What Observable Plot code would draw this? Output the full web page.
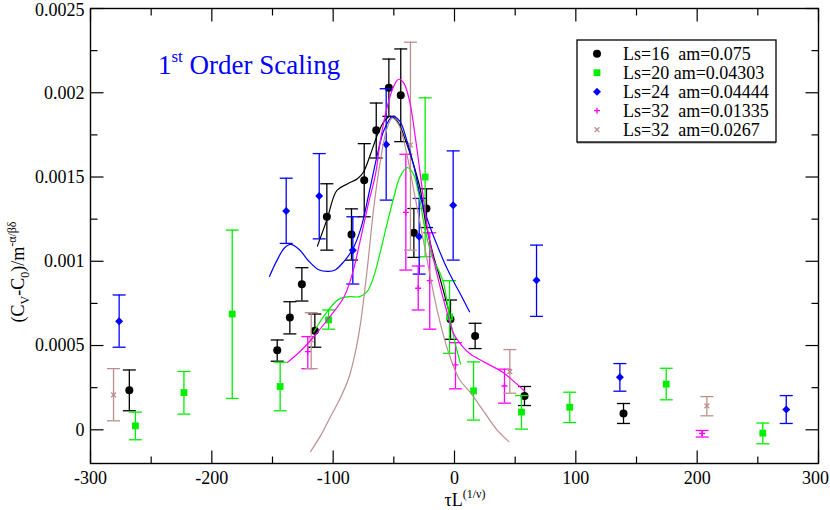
<!DOCTYPE html>
<html><head><meta charset="utf-8">
<script src="https://cdn.jsdelivr.net/npm/d3@7"></script>
<script src="https://cdn.jsdelivr.net/npm/@observablehq/plot@0.6"></script>
<style>body{margin:0;background:#fff;} svg text{font-family:"Liberation Serif","Times New Roman",serif;}</style>
</head><body><div id="chart"></div><script>
// ---------- data ----------
const labels = ["Ls=16  am=0.075", "Ls=20 am=0.04303", "Ls=24  am=0.04444", "Ls=32  am=0.01335", "Ls=32  am=0.0267"];
const colors = ["#000000", "#00ee00", "#0000ff", "#ff00ff", "#bc8f8f"];

const x16  = [-268, -146.1, -135.7, -125.8, -115.1, -105.2, -84.9, -74.4, -64.5, -54.1, -44.3, -33.5, -23.1, -3.3, 17, 57.7, 139.3];
const y16  = [0.000235, 0.000472, 0.000667, 0.000863, 0.000588, 0.001264, 0.001159, 0.001481, 0.001777, 0.00203, 0.001985, 0.001169, 0.001313, 0.000656, 0.000557, 0.000201, 0.0000967];
const lo16 = [0.000113, 0.000407, 0.000569, 0.000764, 0.00049, 0.001066, 0.001007, 0.001264, 0.001613, 0.00186, 0.00171, 0.001023, 0.0012, 0.000537, 0.000482, 0.000144, 0.0000375];
const hi16 = [0.000355, 0.000533, 0.00076, 0.000962, 0.000687, 0.00146, 0.001311, 0.001698, 0.001939, 0.0022, 0.00226, 0.001313, 0.00143, 0.00077, 0.000632, 0.000257, 0.000156];

const x20  = [-263, -223, -183.2, -143.7, -103.8, -24.2, -4.1, 15.7, 55.2, 95, 174.5, 254.1];
const y20  = [0.0000237, 0.000221, 0.000687, 0.000257, 0.000652, 0.0015, 0.00067, 0.000231, 0.000105, 0.000134, 0.000271, -0.0000197];
const lo20 = [-0.0000592, 0.000093, 0.000186, 0.000113, 0.000597, 0.001027, 0.000454, 0.0000575, 0.000004, 0.000043, 0.000178, -0.000083];
const hi20 = [0.000105, 0.000346, 0.001185, 0.000401, 0.000711, 0.00197, 0.000885, 0.000403, 0.000203, 0.000223, 0.000365, 0.00004];

const x24  = [-276.4, -138.7, -111.5, -83.8, -56.3, -29.1, -1.1, 67.6, 136.3, 273.4];
const y24  = [0.000644, 0.001299, 0.001388, 0.001066, 0.001693, 0.001145, 0.001333, 0.000887, 0.000312, 0.00012];
const lo24 = [0.00049, 0.001106, 0.001133, 0.000865, 0.001363, 0.000924, 0.001007, 0.000673, 0.000229, 0.0000375];
const hi24 = [0.0008, 0.001493, 0.001639, 0.001264, 0.002024, 0.001373, 0.001655, 0.001096, 0.000393, 0.000203];

const x32a  = [-120.9, -40.1, -29.9, -20.4, 0.8, 41.2, 204.1];
const y32a  = [0.000464, 0.00129, 0.00084, 0.000885, 0.000385, 0.00026, -0.0000219];
const lo32a = [0.000363, 0.000948, 0.000711, 0.000597, 0.000243, 0.000158, -0.000043];
const hi32a = [0.000553, 0.001635, 0.000972, 0.001169, 0.000517, 0.00036, -0.000004];

const x32b  = [-281, -118.1, -36.3, 45.6, 208];
const y32b  = [0.000207, 0.000533, 0.00169, 0.000345, 0.000142];
const lo32b = [0.0000533, 0.000363, 0.001066, 0.000217, 0.000083];
const hi32b = [0.000363, 0.000695, 0.0023, 0.000476, 0.000197];

// fitted curves
const cx16 = [-113, -105, -97, -88, -80, -75, -69, -63, -58, -53, -47, -40, -34, -28, -24, -18, -12, -6, -3];
const cy16 = [0.00109, 0.00125, 0.00142, 0.00146, 0.00149, 0.00153, 0.00164, 0.00176, 0.00183, 0.00186, 0.00183, 0.00171, 0.00158, 0.00142, 0.00124, 0.00105, 0.0009, 0.00074, 0.00066];
const cx20 = [-116, -110, -104, -98, -94, -86, -78, -72, -67, -62, -56, -50, -45, -39, -34, -29, -24, -18, -12, -9, -5, 0, 5];
const cy20 = [0.00058, 0.00065, 0.00071, 0.00076, 0.00078, 0.00079, 0.00079, 0.00082, 0.0009, 0.00103, 0.00121, 0.00138, 0.0015, 0.001556, 0.00152, 0.00138, 0.00118, 0.00102, 0.00093, 0.00087, 0.00071, 0.00053, 0.00039];
const cx24 = [-152.5, -146, -140, -135, -128, -120, -112, -104, -98, -91, -84, -77, -70, -64, -58, -51, -45, -39, -33, -28, -21, -14, -7, 0, 6, 12.4];
const cy24 = [0.00091, 0.00101, 0.00108, 0.0011, 0.00107, 0.001, 0.00095, 0.00094, 0.00095, 0.001, 0.00107, 0.0012, 0.00142, 0.00162, 0.00178, 0.00186, 0.00183, 0.00171, 0.00155, 0.00138, 0.00122, 0.00109, 0.00097, 0.00087, 0.00079, 0.0007];
const cx32a = [-137.6, -128, -118.7, -105, -91, -84, -77.5, -71, -65, -61, -55, -50, -46, -42, -37, -32, -27, -22, -14, -7, -0.6, 6, 13, 25, 40, 50, 57.7];
const cy32a = [0.0004, 0.00046, 0.00053, 0.00065, 0.00079, 0.00093, 0.00113, 0.00134, 0.00152, 0.00172, 0.00193, 0.00204, 0.00208, 0.00206, 0.00195, 0.00172, 0.00145, 0.00118, 0.00091, 0.00072, 0.00057, 0.0005, 0.00045, 0.0004, 0.00034, 0.00028, 0.00023];
const cx32b = [-118.7, -110, -102, -94, -87, -82, -77.5, -72, -66.5, -61, -56, -51.4, -46, -40, -33, -25, -14.3, -5, 4, 13.2, 25, 35, 44.8];
const cy32b = [-0.00013, -0.00003, 0.00008, 0.00019, 0.00031, 0.00045, 0.00063, 0.00095, 0.00132, 0.0016, 0.00178, 0.00185, 0.00181, 0.00166, 0.0014, 0.0011, 0.00071, 0.00046, 0.0003, 0.00022, 0.0001, 0.0, -0.00007];

const xTicks = [-300, -200, -100, 0, 100, 200, 300];
const xMinor = [-250, -150, -50, 50, 150, 250];
const yTicks = [0, 0.0005, 0.001, 0.0015, 0.002, 0.0025];
const yMinor = [0.00025, 0.00075, 0.00125, 0.00175, 0.00225];

// ---------- symbols ----------
const rad = s => Math.sqrt(s / Math.PI);
const sym = {
  cap:   {draw(c, s){ const l = rad(s); c.moveTo(-l, 0); c.lineTo(l, 0); }},
  right: {draw(c, s){ const l = rad(s); c.moveTo(0, 0); c.lineTo(l, 0); }},
  left:  {draw(c, s){ const l = rad(s); c.moveTo(0, 0); c.lineTo(-l, 0); }},
  up:    {draw(c, s){ const l = rad(s); c.moveTo(0, 0); c.lineTo(0, -l); }},
  down:  {draw(c, s){ const l = rad(s); c.moveTo(0, 0); c.lineTo(0, l); }},
  square:{draw(c, s){ const l = rad(s); c.moveTo(-l,-l); c.lineTo(l,-l); c.lineTo(l,l); c.lineTo(-l,l); c.closePath(); }},
  diamond:{draw(c, s){ const l = rad(s); c.moveTo(0,-l); c.lineTo(l,0); c.lineTo(0,l); c.lineTo(-l,0); c.closePath(); }},
  plus:  {draw(c, s){ const l = rad(s); c.moveTo(-l,0); c.lineTo(l,0); c.moveTo(0,-l); c.lineTo(0,l); }},
  times: {draw(c, s){ const l = rad(s); c.moveTo(-l,-l); c.lineTo(l,l); c.moveTo(-l,l); c.lineTo(l,-l); }}
};

const series = [
  {xs: x16,  ys: y16,  lo: lo16,  hi: hi16,  cx: cx16,  cy: cy16,  symbol: "circle",     r: 4,   filled: true},
  {xs: x20,  ys: y20,  lo: lo20,  hi: hi20,  cx: cx20,  cy: cy20,  symbol: sym.square,   r: 3.4, filled: true},
  {xs: x24,  ys: y24,  lo: lo24,  hi: hi24,  cx: cx24,  cy: cy24,  symbol: sym.diamond,  r: 4,   filled: true},
  {xs: x32a, ys: y32a, lo: lo32a, hi: hi32a, cx: cx32a, cy: cy32a, symbol: sym.plus,     r: 3,   filled: false},
  {xs: x32b, ys: y32b, lo: lo32b, hi: hi32b, cx: cx32b, cy: cy32b, symbol: sym.times,    r: 2.4, filled: false}
];

const serif = "Liberation Serif";
const marks = [Plot.frame({stroke: "black", strokeWidth: 1.4})];
series.forEach((s, k) => {
  const color = colors[k];
  const rows = s.xs.map((x, i) => ({x, y: s.ys[i], lo: s.lo[i], hi: s.hi[i]}));
  marks.push(
    Plot.ruleX(rows, {x: "x", y1: "lo", y2: "hi", stroke: color, strokeWidth: 1.3}),
    Plot.dot(rows, {x: "x", y: "lo", symbol: sym.cap, r: 6.5, stroke: color, strokeWidth: 1.3, fill: "none"}),
    Plot.dot(rows, {x: "x", y: "hi", symbol: sym.cap, r: 6.5, stroke: color, strokeWidth: 1.3, fill: "none"}),
    s.filled
      ? Plot.dot(rows, {x: "x", y: "y", symbol: s.symbol, r: s.r, fill: color, stroke: "none"})
      : Plot.dot(rows, {x: "x", y: "y", symbol: s.symbol, r: s.r, fill: "none", stroke: color, strokeWidth: 1.3})
  );
});
series.forEach((s, k) => {
  const crow = s.cx.map((x, i) => ({x, y: s.cy[i]}));
  marks.push(Plot.line(crow, {x: "x", y: "y", stroke: colors[k], strokeWidth: 1.2, curve: "catmull-rom"}));
});
// inward ticks on all four sides
const tk = (data, ch, anchor, symbol, r) =>
  Plot.dot(data, {[ch]: d => d, frameAnchor: anchor, symbol, r, stroke: "black", strokeWidth: 1.2, fill: "none"});
const fmt = d => String(d);
marks.push(
  tk(yTicks, "y", "left", sym.right, 13), tk(yMinor, "y", "left", sym.right, 7),
  tk(yTicks, "y", "right", sym.left, 13), tk(yMinor, "y", "right", sym.left, 7),
  tk(xTicks, "x", "bottom", sym.up, 13), tk(xMinor, "x", "bottom", sym.up, 7),
  tk(xTicks, "x", "top", sym.down, 13), tk(xMinor, "x", "top", sym.down, 7),
  Plot.axisX({ticks: xTicks.slice(0, -1), tickSize: 0, tickPadding: 8, label: null, fontSize: 18, fontFamily: serif, tickFormat: fmt}),
  Plot.axisX({ticks: xTicks.slice(-1), tickSize: 0, tickPadding: 8, dx: -3, label: null, fontSize: 18, fontFamily: serif, tickFormat: fmt}),
  Plot.axisY({ticks: yTicks.slice(0, -1), tickSize: 0, tickPadding: 6, label: null, fontSize: 18, fontFamily: serif, tickFormat: fmt}),
  Plot.axisY({ticks: yTicks.slice(-1), tickSize: 0, tickPadding: 6, dy: 2, label: null, fontSize: 18, fontFamily: serif, tickFormat: fmt})
);

const chart = Plot.plot({
  width: 830, height: 510,
  marginLeft: 90, marginRight: 12, marginTop: 8, marginBottom: 47,
  x: {domain: [-300, 300]},
  y: {domain: [-0.0002, 0.0025]},
  style: {fontFamily: serif, fontSize: "18px", background: "white", color: "black"},
  marks
});
document.getElementById("chart").appendChild(chart);

// ---------- annotations ----------
const svg = d3.select(chart);

// y label
const yl = svg.append("text").attr("transform", "translate(24,272) rotate(-90)")
  .attr("text-anchor", "middle").attr("font-family", serif).attr("font-size", 18).attr("fill", "black");
yl.append("tspan").text("(C");
yl.append("tspan").attr("font-size", 12).attr("dy", 5).text("V");
yl.append("tspan").attr("dy", -5).text("-C");
yl.append("tspan").attr("font-size", 12).attr("dy", 5).text("0");
yl.append("tspan").attr("dy", -5).text(")/m");
yl.append("tspan").attr("font-size", 12).attr("dy", -8).text("-α/βδ");

// x label
const xl = svg.append("text").attr("x", 465).attr("y", 506)
  .attr("text-anchor", "middle").attr("font-family", serif).attr("font-size", 18).attr("fill", "black");
xl.append("tspan").text("τL");
xl.append("tspan").attr("font-size", 12).attr("dy", -8).text("(1/ν)");

// title
const tt = svg.append("text").attr("x", 158).attr("y", 74).attr("text-anchor", "start")
  .attr("font-family", serif).attr("font-size", 27).attr("fill", "#0000ff");
tt.append("tspan").text("1");
tt.append("tspan").attr("font-size", 17).attr("dy", -12).text("st");
tt.append("tspan").attr("dy", 12).attr("font-size", 27).style("white-space", "pre").text(" Order Scaling");

// legend
const lg = svg.append("g");
lg.append("rect").attr("x", 577).attr("y", 42).attr("width", 199).attr("height", 101.5).attr("fill", "#888");
lg.append("rect").attr("x", 577).attr("y", 40).attr("width", 199).attr("height", 102)
  .attr("fill", "white").attr("stroke", "black").attr("stroke-width", 1.3);
series.forEach((s, k) => {
  const cy = 53.7 + k * 19;
  const size = s.r * s.r * Math.PI;
  const type = s.symbol === "circle" ? d3.symbolCircle : s.symbol;
  const p = lg.append("path").attr("transform", `translate(597,${cy})`).attr("d", d3.symbol(type, size)());
  if (s.filled) p.attr("fill", colors[k]);
  else p.attr("fill", "none").attr("stroke", colors[k]).attr("stroke-width", 1.3);
  lg.append("text").attr("x", 623).attr("y", cy).attr("dy", "0.35em").attr("text-anchor", "start")
    .attr("font-family", serif).attr("font-size", 18).attr("fill", "black")
    .style("white-space", "pre").text(labels[k]);
});
</script></body></html>
